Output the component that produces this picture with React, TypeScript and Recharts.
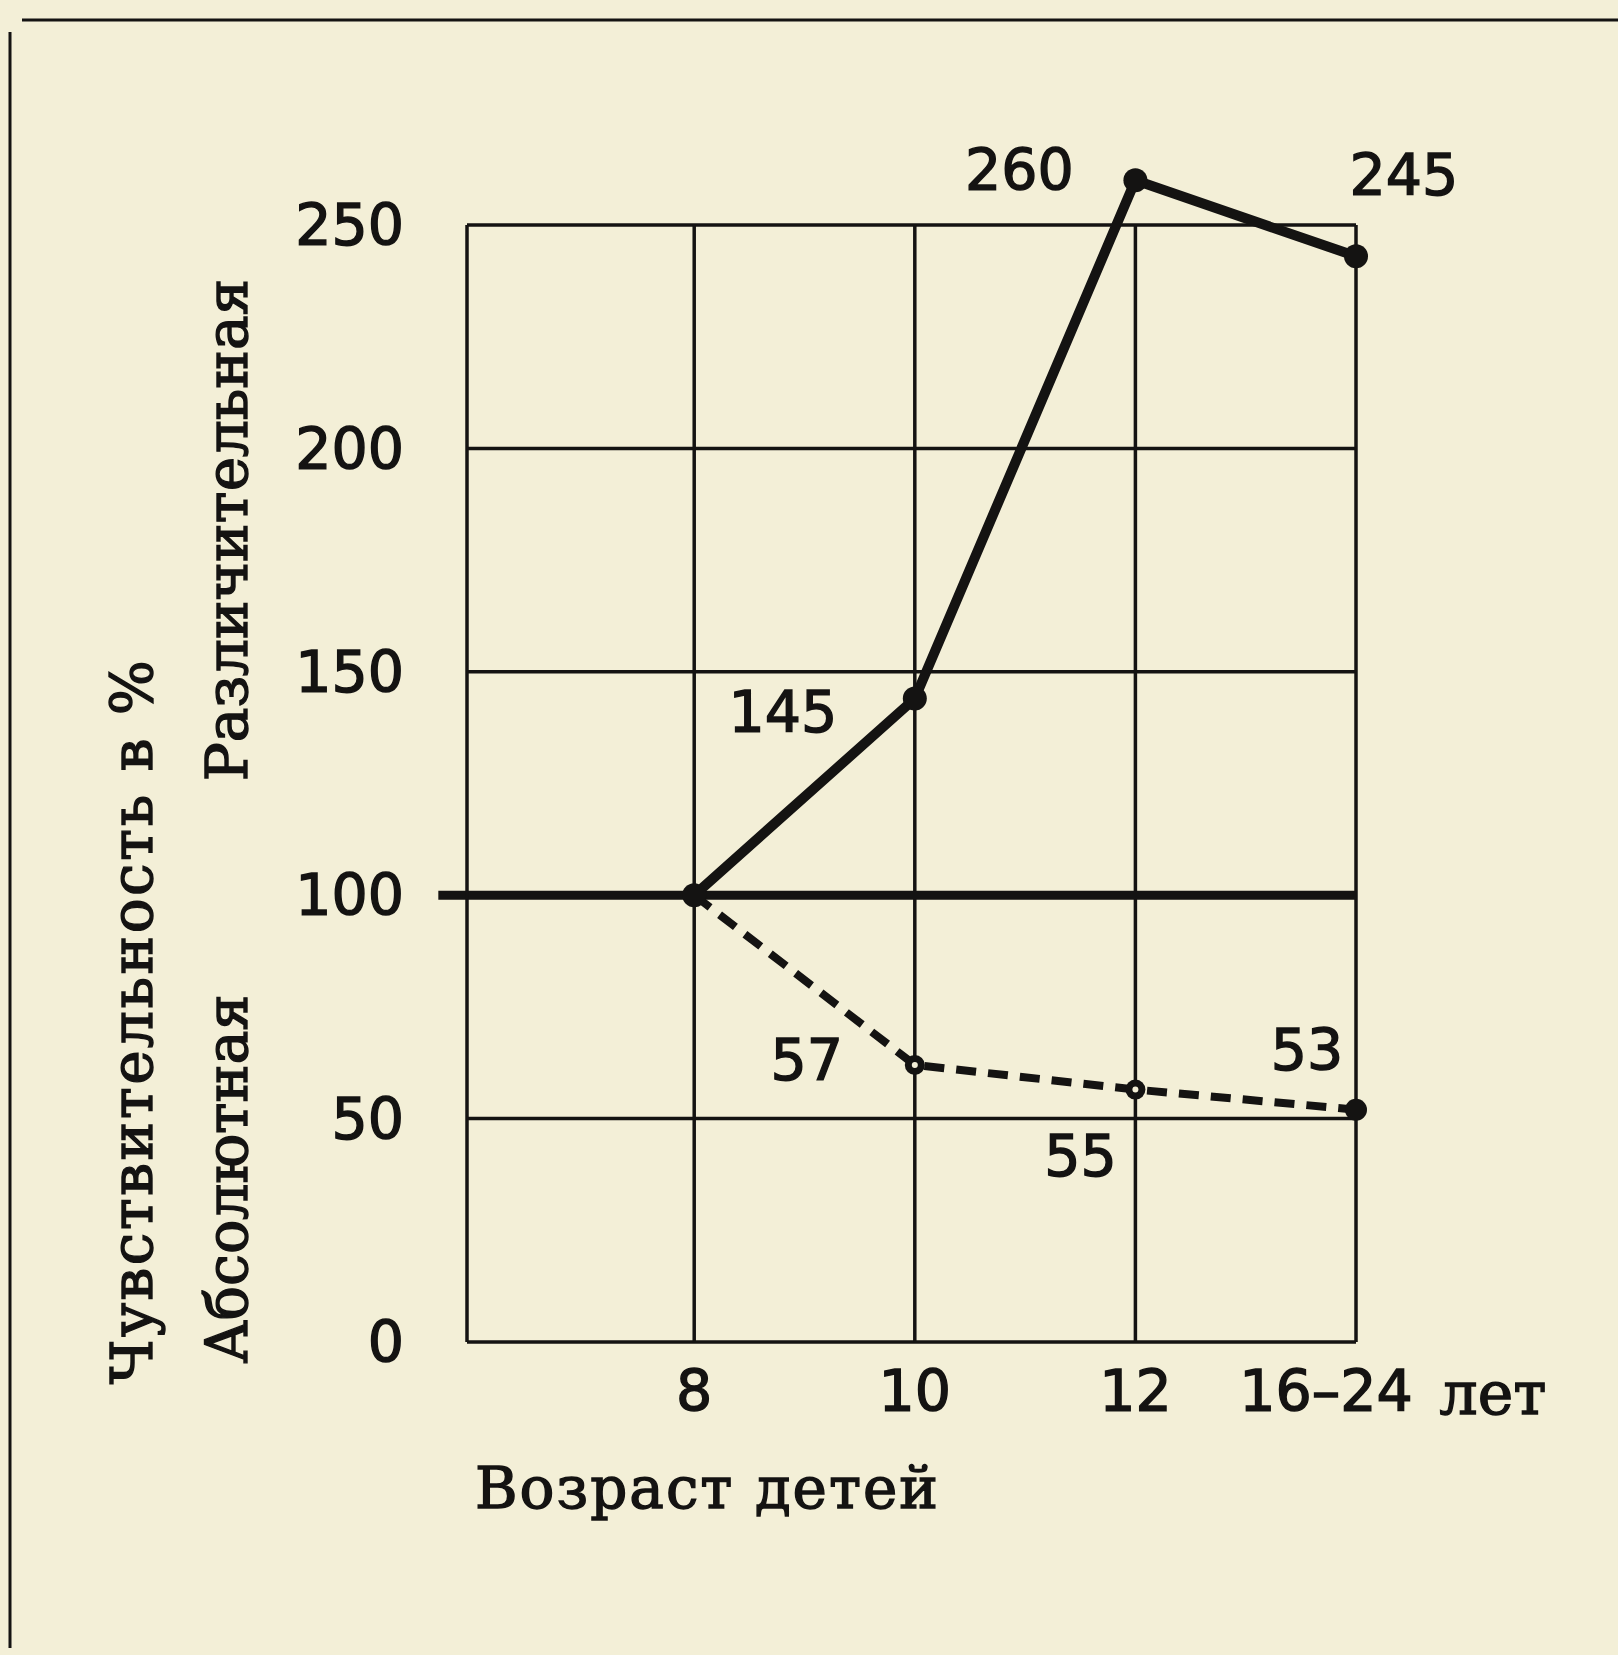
import React from 'react'
import { LineChart, Line, XAxis, YAxis, CartesianGrid, ReferenceLine, LabelList } from 'recharts'

// возраст детей
const ages = ['8', '10', '12', '16–24']
const agePos = [1, 2, 3, 4]
const yTicks = [0, 50, 100, 150, 200, 250]

// различительная чувствительность, %
const razlichitelnaya = [100, 144, 260, 243]
const razlLabels = ['', '145', '260', '245']

// абсолютная чувствительность, %
const absolyutnaya = [100, 62, 56.5, 52]
const absLabels = ['', '57', '55', '53']

const INK = '#141312'
const PAPER = '#f3efd7'
const NUM_FONT = '"DejaVu Sans", sans-serif'
const WORD_FONT = '"DejaVu Serif", serif'
// scanned print is a bit heavier than the plain font
const HEAVY = { stroke: INK, strokeWidth: 1.4 }

const data = agePos.map((x, i) => ({
  x,
  razl: razlichitelnaya[i],
  abs: absolyutnaya[i],
  razlLabel: razlLabels[i],
  absLabel: absLabels[i],
}))

const RAZL_OFFSETS = [[0, 0], [-132, 13], [-116, -10], [48, -81]]
const ABS_OFFSETS = [[0, 0], [-108, -5], [-55, 66], [-49, -60]]

const makeLabel = (offsets: number[][]) => (props: any) => {
  const { x, y, index, value } = props
  if (!value) return null
  const [dx, dy] = offsets[index] || [0, 0]
  return (
    <text x={x + dx} y={y + dy} textAnchor="middle" dominantBaseline="central"
      fontFamily={NUM_FONT} fontSize={57} fill={INK} {...HEAVY}>
      {value}
    </text>
  )
}

function AgeTick(props: any) {
  const { x, y, payload } = props
  const i = agePos.indexOf(payload.value)
  if (i < 0) return null
  const common = { y, dy: '0.71em', fontFamily: NUM_FONT, fontSize: 57, fill: INK, textAnchor: 'middle' as const, ...HEAVY }
  if (i === ages.length - 1) {
    return (
      <g>
        <text x={x - 30} {...common}>{ages[i]}</text>
        <text x={x + 137} {...common} fontFamily={WORD_FONT} fontSize={60}>лет</text>
      </g>
    )
  }
  return <text x={x} {...common}>{ages[i]}</text>
}

const renderAbsDot = (props: any) => {
  const { cx, cy, index } = props
  if (index === 0) return <g key={`abs-dot-${index}`} />
  const last = index === absolyutnaya.length - 1
  return (
    <g key={`abs-dot-${index}`}>
      <circle cx={cx} cy={cy} r={last ? 11 : 10} fill={INK} stroke="none" />
      {!last && <circle cx={cx} cy={cy} r={3} fill={PAPER} stroke="none" />}
    </g>
  )
}

export default function App() {
  return (
    <div style={{ position: 'absolute', left: 0, top: 0, width: 1618, height: 1655, background: PAPER }}>
      <style>{`.recharts-wrapper [clip-path] { clip-path: none !important; }`}</style>
      <LineChart width={1618} height={1655} data={data}
        margin={{ top: 225, right: 262, bottom: 253, left: 367 }}>
        <CartesianGrid stroke={INK} strokeWidth={3.5} horizontalValues={yTicks} verticalValues={agePos} />
        <XAxis dataKey="x" type="number" domain={[-0.03, 4]} ticks={agePos} axisLine={false}
          tickLine={false} tickSize={0} tickMargin={29} height={60} tick={<AgeTick />} interval={0} />
        <YAxis type="number" domain={[0, 250]} ticks={yTicks} allowDataOverflow width={100}
          axisLine={{ stroke: INK, strokeWidth: 3.5 }} tickLine={false} tickSize={0} tickMargin={63} interval={0}
          tick={{ fontFamily: NUM_FONT, fontSize: 57, fill: INK, ...HEAVY }} />
        <ReferenceLine segment={[{ x: -0.16, y: 100 }, { x: 4, y: 100 }]} ifOverflow="visible"
          stroke={INK} strokeWidth={9} />
        <Line dataKey="abs" stroke={INK} strokeWidth={8} strokeDasharray="20 12" dot={renderAbsDot}
          activeDot={false} isAnimationActive={false}>
          <LabelList dataKey="absLabel" content={makeLabel(ABS_OFFSETS)} />
        </Line>
        <Line dataKey="razl" stroke={INK} strokeWidth={10} strokeLinejoin="round"
          dot={{ r: 12, fill: INK, stroke: INK, strokeWidth: 0 }} activeDot={false} isAnimationActive={false}>
          <LabelList dataKey="razlLabel" content={makeLabel(RAZL_OFFSETS)} />
        </Line>
      </LineChart>
      <svg width={1618} height={1655} style={{ position: 'absolute', left: 0, top: 0, pointerEvents: 'none' }}>
        <line x1={22} y1={20} x2={1618} y2={20} stroke={INK} strokeWidth={3} />
        <line x1={10} y1={32} x2={10} y2={1648} stroke={INK} strokeWidth={3} />
        <text transform="translate(132,1021) rotate(-90)" textAnchor="middle" dominantBaseline="central"
          fontFamily={WORD_FONT} fontSize={58} letterSpacing={2.5} fill={INK} {...HEAVY}>Чувствительность в %</text>
        <text transform="translate(227,1179) rotate(-90)" textAnchor="middle" dominantBaseline="central"
          fontFamily={WORD_FONT} fontSize={57} fill={INK} {...HEAVY}>Абсолютная</text>
        <text transform="translate(227,530) rotate(-90)" textAnchor="middle" dominantBaseline="central"
          fontFamily={WORD_FONT} fontSize={58} fill={INK} {...HEAVY}>Различительная</text>
        <text x={475} y={1488} dominantBaseline="central" fontFamily={WORD_FONT} fontSize={58}
          letterSpacing={2} fill={INK} {...HEAVY}>
          Возраст детей
        </text>
      </svg>
    </div>
  )
}
